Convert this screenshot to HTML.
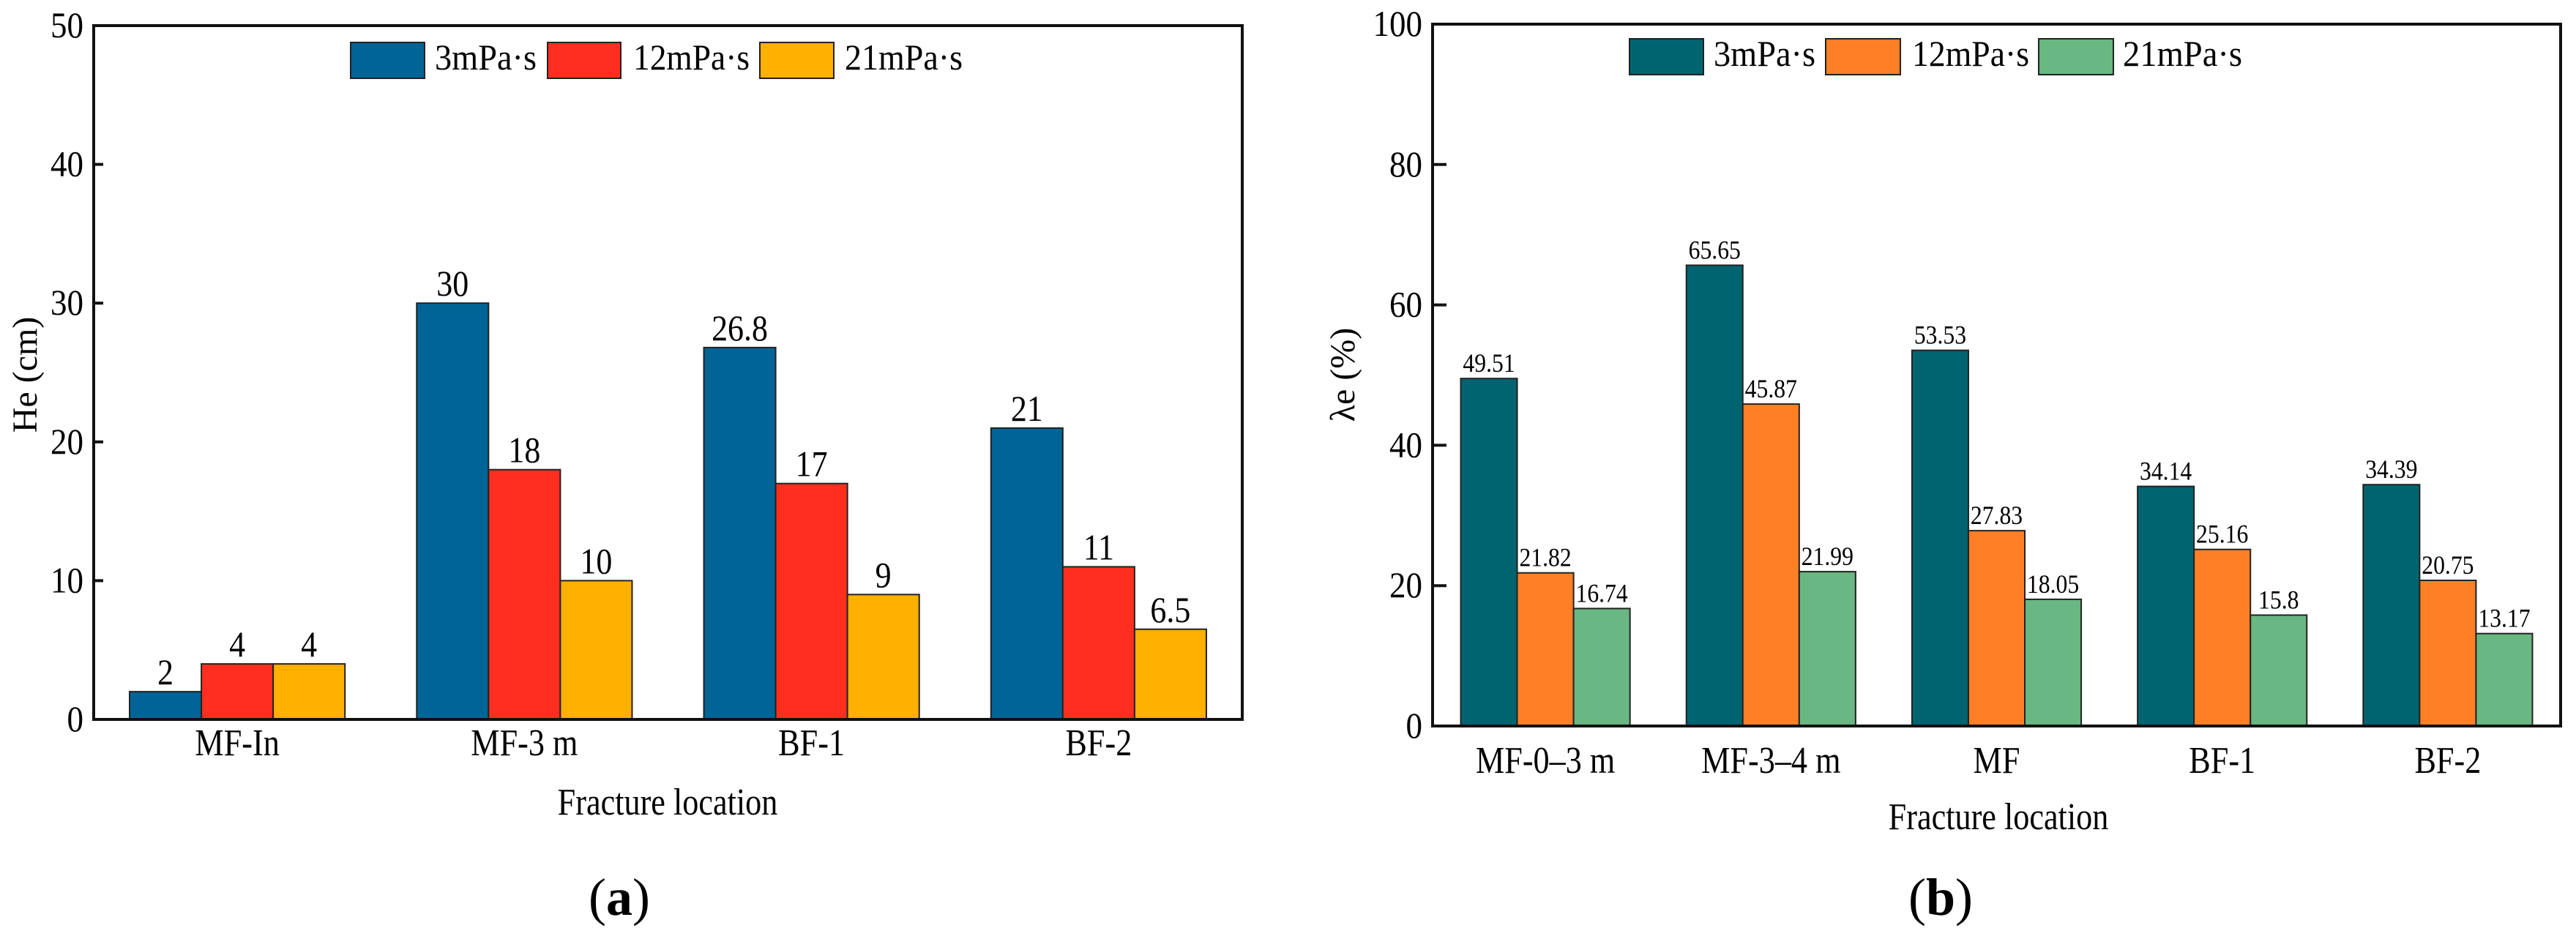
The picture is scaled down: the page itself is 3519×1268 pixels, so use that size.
<!DOCTYPE html>
<html><head><meta charset="utf-8">
<style>
html,body{margin:0;padding:0;background:#fff;}
svg{display:block;}
svg text{font-family:'Liberation Serif','Times New Roman','Nimbus Roman','DejaVu Serif',serif;fill:#000;}
</style></head>
<body>
<svg id="fig" width="3519" height="1268" viewBox="0 0 3519 1268" xmlns="http://www.w3.org/2000/svg" font-family="Liberation Serif, Times New Roman, DejaVu Serif, serif"></svg>
<script>
// ---- Chart (a) data ----
const aCategories = ["MF-In","MF-3 m","BF-1","BF-2"];
const aSeries3 = [2,30,26.8,21];
const aSeries12 = [4,18,17,11];
const aSeries21 = [4,10,9,6.5];
const aLabels3 = ["2","30","26.8","21"];
const aLabels12 = ["4","18","17","11"];
const aLabels21 = ["4","10","9","6.5"];
const aTicks = [0,10,20,30,40,50];
const aSeriesNames = ["3mPa·s","12mPa·s","21mPa·s"];
// ---- Chart (b) data ----
const bCategories = ["MF-0–3 m","MF-3–4 m","MF","BF-1","BF-2"];
const bSeries3 = [49.51,65.65,53.53,34.14,34.39];
const bSeries12 = [21.82,45.87,27.83,25.16,20.75];
const bSeries21 = [16.74,21.99,18.05,15.8,13.17];
const bLabels3 = ["49.51","65.65","53.53","34.14","34.39"];
const bLabels12 = ["21.82","45.87","27.83","25.16","20.75"];
const bLabels21 = ["16.74","21.99","18.05","15.8","13.17"];
const bTicks = [0,20,40,60,80,100];
const bSeriesNames = ["3mPa·s","12mPa·s","21mPa·s"];

const NS="http://www.w3.org/2000/svg";
const FONT="Liberation Serif, Times New Roman, DejaVu Serif, serif";
const svg=document.getElementById('fig');
function mk(tag,attrs,parent){const e=document.createElementNS(NS,tag);for(const k in attrs)e.setAttribute(k,attrs[k]);if(tag==='text')e.setAttribute('font-family',FONT);(parent||svg).appendChild(e);return e;}
function squeeze(t,cx,s){t.setAttribute('transform',`translate(${cx},0) scale(${s},1) translate(${-cx},0)`);}

function drawChart(cfg){
  const g=mk('g',{});
  
  
  const x0=cfg.x0,x1=cfg.x1,y0=cfg.y0,y1=cfg.y1;
  const ymax=cfg.ticks[cfg.ticks.length-1];
  const yScale=v=>y1-(v/ymax)*(y1-y0);
  const gw=(x1-x0)/cfg.cats.length;
  const bw=gw*0.25;
  const xScale=(i,s)=>x0+gw*i+gw*0.125+bw*s;
  cfg.series.forEach((vals,s)=>{
    vals.forEach((v,i)=>{
      const r=mk('rect',{x:xScale(i,s),y:yScale(v),width:bw,height:y1-yScale(v),fill:cfg.colors[s],stroke:'#222','stroke-width':2},g);
      
      
      const cx=xScale(i,s)+bw/2;
      const t=mk('text',{x:cx,y:yScale(v)-cfg.lblGap,'text-anchor':'middle','font-size':cfg.valSize},g);
      t.textContent=cfg.labels[s][i];
      
      
      squeeze(t,cx,0.88);
    });
  });
  const f=mk('rect',{x:x0,y:y0,width:x1-x0,height:y1-y0,fill:'none',stroke:'#111','stroke-width':4},g);
  
  
  cfg.ticks.forEach(tv=>{
    const y=yScale(tv);
    if(tv>0&&tv<ymax){const l=mk('line',{x1:x0,x2:x0+cfg.tickLen,y1:y,y2:y,stroke:'#111','stroke-width':4},g);
      
      }
    const t=mk('text',{x:x0-14,y:y+16,'text-anchor':'end','font-size':50},g);
    t.textContent=String(tv);
    
    
    squeeze(t,x0-14,0.9);
  });
  cfg.cats.forEach((c,i)=>{
    const cx=x0+gw*(i+0.5);
    const t=mk('text',{x:cx,y:cfg.xLabY,'text-anchor':'middle','font-size':52},g);
    t.textContent=c;
    
    
    squeeze(t,cx,0.85);
  });
  const xt=mk('text',{x:cfg.xTitleX,y:cfg.xTitleY,'text-anchor':'middle','font-size':52},g);
  xt.textContent='Fracture location';
  
  
  squeeze(xt,cfg.xTitleX,0.85);
  const yt=mk('text',{x:0,y:0,'text-anchor':'middle','font-size':48,transform:`translate(${cfg.yTitleX},${cfg.yTitleY}) rotate(-90)`},g);
  yt.textContent=cfg.yTitle;
  
  
  cfg.legend.forEach((L,s)=>{
    const lg=mk('g',{},g);
    
    
    mk('rect',{x:L[0],y:cfg.legY0,width:L[1]-L[0],height:cfg.legY1-cfg.legY0,fill:cfg.colors[s],stroke:'#222','stroke-width':2},lg);
    mk('text',{x:L[2],y:cfg.legY1-12,'font-size':50,textLength:L[3]-L[2],lengthAdjust:'spacingAndGlyphs'},lg).textContent=cfg.names[s];
  });
  const p=mk('text',{x:cfg.panelX,y:1250,'text-anchor':'middle','font-size':72},g);
  
  
  p.innerHTML='(<tspan font-weight="bold">'+cfg.panel+'</tspan>)';
}

drawChart({name:'chart-a',key:'a',x0:128,x1:1697,y0:35,y1:983,ticks:aTicks,cats:aCategories,
  series:[aSeries3,aSeries12,aSeries21],labels:[aLabels3,aLabels12,aLabels21],names:aSeriesNames,
  colors:['#006496','#ff2e1f','#ffb000'],valSize:50,lblGap:10,tickLen:13,xLabY:1032,
  xTitleX:912,xTitleY:1113,yTitle:'He (cm)',yTitleX:50,yTitleY:512,
  legY0:58,legY1:107,legend:[[479,580,594,733],[748,848,865,1024],[1038,1139,1154,1315]],
  panel:'a',panelX:846});
drawChart({name:'chart-b',key:'b',x0:1957,x1:3498,y0:33,y1:992,ticks:bTicks,cats:bCategories,
  series:[bSeries3,bSeries12,bSeries21],labels:[bLabels3,bLabels12,bLabels21],names:bSeriesNames,
  colors:['#006470','#ff7f27','#69b782'],valSize:36,lblGap:9,tickLen:19,xLabY:1056,
  xTitleX:2730,xTitleY:1133,yTitle:'λe (%)',yTitleX:1850,yTitleY:512,
  legY0:53,legY1:102,legend:[[2226,2327,2341,2480],[2494,2596,2612,2772],[2785,2887,2900,3063]],
  panel:'b',panelX:2651});
</script>
</body></html>
